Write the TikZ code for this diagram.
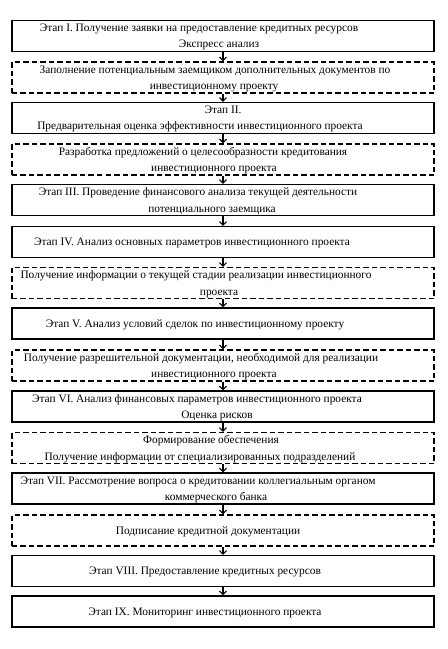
\documentclass[tikz,border=0pt]{standalone}
\usepackage{fontspec}
\setmainfont{Liberation Serif}
\usetikzlibrary{arrows.meta}
\newcommand\shl[2]{#2\hspace*{#1bp}}
\begin{document}
\begin{tikzpicture}[x=1bp,y=-1bp,
 box/.style={draw, line width=1.1bp, minimum width=422bp, minimum height=31bp, inner sep=1bp, text depth=0pt, align=center, font=\fontsize{11.4}{16.5}\selectfont},
 dbox/.style={box, dash pattern=on 5.5bp off 3bp},
 arr/.style={-{Straight Barb[length=3.5bp,width=7bp,line width=1.2bp]}, line width=1.1bp}]
\useasboundingbox (0,0) rectangle (448,649);
\node[box]  (b1)  at (223,36)    {\shl{48}{Этап I. Получение заявки на предоставление кредитных ресурсов}\\ \shl{8}{Экспресс анализ}};
\node[dbox] (b2)  at (223,77.5)  {\shl{16}{Заполнение потенциальным заемщиком дополнительных документов по}\\ \shl{18}{инвестиционному проекту}};
\node[box]  (b3)  at (223,118)   {Этап II.\\ \shl{46}{Предварительная оценка эффективности инвестиционного проекта}};
\node[dbox] (b4)  at (223,159.5) {\shl{40}{Разработка предложений о целесообразности кредитования}\\ \shl{18}{инвестиционного проекта}};
\node[box]  (b5)  at (223,200)   {\shl{50}{Этап III. Проведение финансового анализа текущей деятельности}\\ \shl{22}{потенциального заемщика}};
\node[box]  (b6)  at (223,242)   {\shl{62}{Этап IV. Анализ основных параметров инвестиционного проекта}};
\node[dbox] (b7)  at (223,283)   {\shl{54}{Получение информации о текущей стадии реализации инвестиционного}\\ \shl{8}{проекта}};
\node[box]  (b8)  at (223,323.5) {\shl{56}{Этап V. Анализ условий сделок по инвестиционному проекту}};
\node[dbox] (b9)  at (223,365.5) {\shl{44}{Получение разрешительной документации, необходимой для реализации}\\ \shl{18}{инвестиционного проекта}};
\node[box]  (b10) at (223,406.5) {\shl{52}{Этап VI. Анализ финансовых параметров инвестиционного проекта}\\ \shl{12}{Оценка рисков}};
\node[dbox] (b11) at (223,448)   {\shl{24}{Формирование обеспечения}\\ \shl{46}{Получение информации от специализированных подразделений}};
\node[box]  (b12) at (223,488.5) {\shl{50}{Этап VII. Рассмотрение вопроса о кредитовании коллегиальным органом}\\ \shl{14}{коммерческого банка}};
\node[dbox] (b13) at (223,530.5) {\shl{30}{Подписание кредитной документации}};
\node[box]  (b14) at (223,571)   {\shl{36}{Этап VIII. Предоставление кредитных ресурсов}};
\node[box]  (b15) at (223,611.5) {\shl{36}{Этап IX. Мониторинг инвестиционного проекта}};
\foreach \a/\b in {b1/b2,b2/b3,b3/b4,b4/b5,b5/b6,b6/b7,b7/b8,b8/b9,b9/b10,b10/b11,b11/b12,b12/b13,b13/b14,b14/b15}
  \draw[arr] (\a.south) -- (\b.north);
\end{tikzpicture}
\end{document}
